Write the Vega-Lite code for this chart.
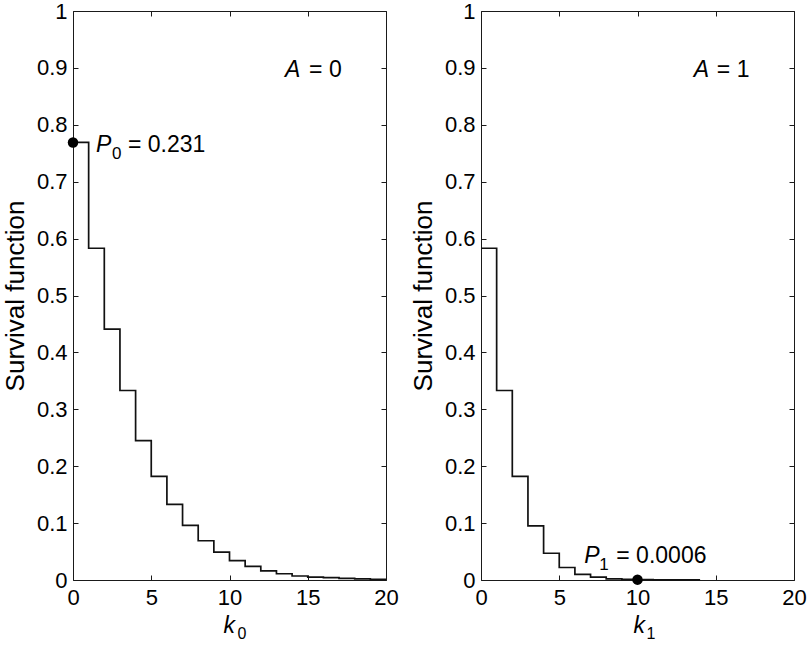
{
  "$schema": "https://vega.github.io/schema/vega-lite/v6.json",
  "padding": {"left": 1, "top": -1, "right": 0, "bottom": 0},
  "background": "white",
  "spacing": 10,
  "datasets": {
    "s0": [
      {"k": 0, "s": 0.769}, {"k": 1, "s": 0.583}, {"k": 2, "s": 0.441}, {"k": 3, "s": 0.333},
      {"k": 4, "s": 0.245}, {"k": 5, "s": 0.182}, {"k": 6, "s": 0.133}, {"k": 7, "s": 0.096},
      {"k": 8, "s": 0.069}, {"k": 9, "s": 0.049}, {"k": 10, "s": 0.034}, {"k": 11, "s": 0.024},
      {"k": 12, "s": 0.016}, {"k": 13, "s": 0.011}, {"k": 14, "s": 0.007}, {"k": 15, "s": 0.005},
      {"k": 16, "s": 0.004}, {"k": 17, "s": 0.003}, {"k": 18, "s": 0.002}, {"k": 19, "s": 0.001},
      {"k": 20, "s": 0.001}
    ],
    "s1": [
      {"k": 0, "s": 0.583}, {"k": 1, "s": 0.333}, {"k": 2, "s": 0.182}, {"k": 3, "s": 0.095},
      {"k": 4, "s": 0.047}, {"k": 5, "s": 0.022}, {"k": 6, "s": 0.010}, {"k": 7, "s": 0.005},
      {"k": 8, "s": 0.002}, {"k": 9, "s": 0.001}, {"k": 10, "s": 0.0006}, {"k": 11, "s": 0.0003},
      {"k": 12, "s": 0.0002}, {"k": 13, "s": 0.0001}, {"k": 14, "s": 0.0001}
    ]
  },
  "config": {
    "font": "Liberation Sans",
    "view": {"stroke": "#1a1a1a", "strokeWidth": 1},
    "axis": {
      "domain": false,
      "grid": false,
      "tickColor": "#1a1a1a",
      "tickSize": -5,
      "tickWidth": 1,
      "labelFont": "Liberation Sans",
      "labelFontSize": 22,
      "labelColor": "black",
      "labelFlush": false,
      "labelOverlap": false,
      "titleFont": "Liberation Sans",
      "titleFontSize": 26,
      "titleFontWeight": "normal",
      "titleColor": "black"
    },
    "text": {"font": "Liberation Sans", "color": "black", "baseline": "alphabetic", "align": "left"}
  },
  "hconcat": [
    {
      "width": 313,
      "height": 569,
      "resolve": {"axis": {"x": "independent", "y": "independent"}},
      "layer": [
        {
          "data": {"name": "s0"},
          "mark": {"type": "line", "interpolate": "step-after", "color": "#111", "strokeWidth": 1.7},
          "encoding": {
            "x": {"field": "k", "type": "quantitative", "scale": {"domain": [0, 20], "nice": false},
                  "axis": {"orient": "bottom", "values": [0, 5, 10, 15, 20], "labelPadding": 12, "title": null}},
            "y": {"field": "s", "type": "quantitative", "scale": {"domain": [0, 1], "nice": false},
                  "axis": {"orient": "left", "values": [0, 0.1, 0.2, 0.3, 0.4, 0.5, 0.6, 0.7, 0.8, 0.9, 1], "format": "~g", "labelPadding": 11, "title": "Survival function", "titlePadding": 8}}
          }
        },
        {
          "data": {"name": "s0"},
          "mark": {"type": "line", "opacity": 0},
          "encoding": {
            "x": {"field": "k", "type": "quantitative", "scale": {"domain": [0, 20], "nice": false},
                  "axis": {"orient": "top", "values": [0, 5, 10, 15, 20], "labels": false, "title": null}},
            "y": {"field": "s", "type": "quantitative", "scale": {"domain": [0, 1], "nice": false},
                  "axis": {"orient": "right", "values": [0, 0.1, 0.2, 0.3, 0.4, 0.5, 0.6, 0.7, 0.8, 0.9, 1], "labels": false, "title": null}}
          }
        },
        {
          "data": {"values": [{"k": 0, "s": 0.769}]},
          "mark": {"type": "point", "filled": true, "size": 110, "color": "black", "opacity": 1, "clip": false},
          "encoding": {
            "x": {"field": "k", "type": "quantitative", "scale": {"domain": [0, 20], "nice": false}, "axis": null},
            "y": {"field": "s", "type": "quantitative", "scale": {"domain": [0, 1], "nice": false}, "axis": null}
          }
        },
        {
          "data": {"values": [{"k": 1.47, "s": 0.752, "label": "P"}, {"k": 13.55, "s": 0.884, "label": "A"}]},
          "mark": {"type": "text", "fontSize": 23, "fontStyle": "italic"},
          "encoding": {
            "x": {"field": "k", "type": "quantitative", "scale": {"domain": [0, 20], "nice": false}, "axis": null},
            "y": {"field": "s", "type": "quantitative", "scale": {"domain": [0, 1], "nice": false}, "axis": null},
            "text": {"field": "label"}
          }
        },
        {
          "data": {"values": [{"k": 10, "s": -0.093, "label": "k"}]},
          "mark": {"type": "text", "fontSize": 23, "fontStyle": "italic", "dx": -6},
          "encoding": {
            "x": {"field": "k", "type": "quantitative", "scale": {"domain": [0, 20], "nice": false}, "axis": null},
            "y": {"field": "s", "type": "quantitative", "scale": {"domain": [0, 1], "nice": false}, "axis": null},
            "text": {"field": "label"}
          }
        },
        {
          "data": {"values": [{"k": 1.47, "s": 0.752, "label": "0"}]},
          "mark": {"type": "text", "fontSize": 17, "dx": 16, "dy": 7},
          "encoding": {
            "x": {"field": "k", "type": "quantitative", "scale": {"domain": [0, 20], "nice": false}, "axis": null},
            "y": {"field": "s", "type": "quantitative", "scale": {"domain": [0, 1], "nice": false}, "axis": null},
            "text": {"field": "label"}
          }
        },
        {
          "data": {"values": [{"k": 1.47, "s": 0.752, "label": "= 0.231"}]},
          "mark": {"type": "text", "fontSize": 23, "dx": 32},
          "encoding": {
            "x": {"field": "k", "type": "quantitative", "scale": {"domain": [0, 20], "nice": false}, "axis": null},
            "y": {"field": "s", "type": "quantitative", "scale": {"domain": [0, 1], "nice": false}, "axis": null},
            "text": {"field": "label"}
          }
        },
        {
          "data": {"values": [{"k": 13.55, "s": 0.884, "label": "= 0"}]},
          "mark": {"type": "text", "fontSize": 23, "dx": 24},
          "encoding": {
            "x": {"field": "k", "type": "quantitative", "scale": {"domain": [0, 20], "nice": false}, "axis": null},
            "y": {"field": "s", "type": "quantitative", "scale": {"domain": [0, 1], "nice": false}, "axis": null},
            "text": {"field": "label"}
          }
        },
        {
          "data": {"values": [{"k": 10, "s": -0.093, "label": "0"}]},
          "mark": {"type": "text", "fontSize": 16, "dx": 8, "dy": 6},
          "encoding": {
            "x": {"field": "k", "type": "quantitative", "scale": {"domain": [0, 20], "nice": false}, "axis": null},
            "y": {"field": "s", "type": "quantitative", "scale": {"domain": [0, 1], "nice": false}, "axis": null},
            "text": {"field": "label"}
          }
        }
      ]
    },
    {
      "width": 313,
      "height": 569,
      "resolve": {"axis": {"x": "independent", "y": "independent"}},
      "layer": [
        {
          "data": {"name": "s1"},
          "mark": {"type": "line", "interpolate": "step-after", "color": "#111", "strokeWidth": 1.7},
          "encoding": {
            "x": {"field": "k", "type": "quantitative", "scale": {"domain": [0, 20], "nice": false},
                  "axis": {"orient": "bottom", "values": [0, 5, 10, 15, 20], "labelPadding": 12, "title": null}},
            "y": {"field": "s", "type": "quantitative", "scale": {"domain": [0, 1], "nice": false},
                  "axis": {"orient": "left", "values": [0, 0.1, 0.2, 0.3, 0.4, 0.5, 0.6, 0.7, 0.8, 0.9, 1], "format": "~g", "labelPadding": 11, "title": "Survival function", "titlePadding": 8}}
          }
        },
        {
          "data": {"name": "s1"},
          "mark": {"type": "line", "opacity": 0},
          "encoding": {
            "x": {"field": "k", "type": "quantitative", "scale": {"domain": [0, 20], "nice": false},
                  "axis": {"orient": "top", "values": [0, 5, 10, 15, 20], "labels": false, "title": null}},
            "y": {"field": "s", "type": "quantitative", "scale": {"domain": [0, 1], "nice": false},
                  "axis": {"orient": "right", "values": [0, 0.1, 0.2, 0.3, 0.4, 0.5, 0.6, 0.7, 0.8, 0.9, 1], "labels": false, "title": null}}
          }
        },
        {
          "data": {"values": [{"k": 10, "s": 0.0006}]},
          "mark": {"type": "point", "filled": true, "size": 110, "color": "black", "opacity": 1, "clip": false},
          "encoding": {
            "x": {"field": "k", "type": "quantitative", "scale": {"domain": [0, 20], "nice": false}, "axis": null},
            "y": {"field": "s", "type": "quantitative", "scale": {"domain": [0, 1], "nice": false}, "axis": null}
          }
        },
        {
          "data": {"values": [{"k": 6.6, "s": 0.030, "label": "P"}, {"k": 13.6, "s": 0.884, "label": "A"}]},
          "mark": {"type": "text", "fontSize": 23, "fontStyle": "italic"},
          "encoding": {
            "x": {"field": "k", "type": "quantitative", "scale": {"domain": [0, 20], "nice": false}, "axis": null},
            "y": {"field": "s", "type": "quantitative", "scale": {"domain": [0, 1], "nice": false}, "axis": null},
            "text": {"field": "label"}
          }
        },
        {
          "data": {"values": [{"k": 10, "s": -0.093, "label": "k"}]},
          "mark": {"type": "text", "fontSize": 23, "fontStyle": "italic", "dx": -4},
          "encoding": {
            "x": {"field": "k", "type": "quantitative", "scale": {"domain": [0, 20], "nice": false}, "axis": null},
            "y": {"field": "s", "type": "quantitative", "scale": {"domain": [0, 1], "nice": false}, "axis": null},
            "text": {"field": "label"}
          }
        },
        {
          "data": {"values": [{"k": 6.6, "s": 0.030, "label": "1"}]},
          "mark": {"type": "text", "fontSize": 17, "dx": 15, "dy": 7},
          "encoding": {
            "x": {"field": "k", "type": "quantitative", "scale": {"domain": [0, 20], "nice": false}, "axis": null},
            "y": {"field": "s", "type": "quantitative", "scale": {"domain": [0, 1], "nice": false}, "axis": null},
            "text": {"field": "label"}
          }
        },
        {
          "data": {"values": [{"k": 6.6, "s": 0.030, "label": "= 0.0006"}]},
          "mark": {"type": "text", "fontSize": 23, "dx": 32},
          "encoding": {
            "x": {"field": "k", "type": "quantitative", "scale": {"domain": [0, 20], "nice": false}, "axis": null},
            "y": {"field": "s", "type": "quantitative", "scale": {"domain": [0, 1], "nice": false}, "axis": null},
            "text": {"field": "label"}
          }
        },
        {
          "data": {"values": [{"k": 13.6, "s": 0.884, "label": "= 1"}]},
          "mark": {"type": "text", "fontSize": 23, "dx": 23},
          "encoding": {
            "x": {"field": "k", "type": "quantitative", "scale": {"domain": [0, 20], "nice": false}, "axis": null},
            "y": {"field": "s", "type": "quantitative", "scale": {"domain": [0, 1], "nice": false}, "axis": null},
            "text": {"field": "label"}
          }
        },
        {
          "data": {"values": [{"k": 10, "s": -0.093, "label": "1"}]},
          "mark": {"type": "text", "fontSize": 16, "dx": 9, "dy": 6},
          "encoding": {
            "x": {"field": "k", "type": "quantitative", "scale": {"domain": [0, 20], "nice": false}, "axis": null},
            "y": {"field": "s", "type": "quantitative", "scale": {"domain": [0, 1], "nice": false}, "axis": null},
            "text": {"field": "label"}
          }
        }
      ]
    }
  ]
}
